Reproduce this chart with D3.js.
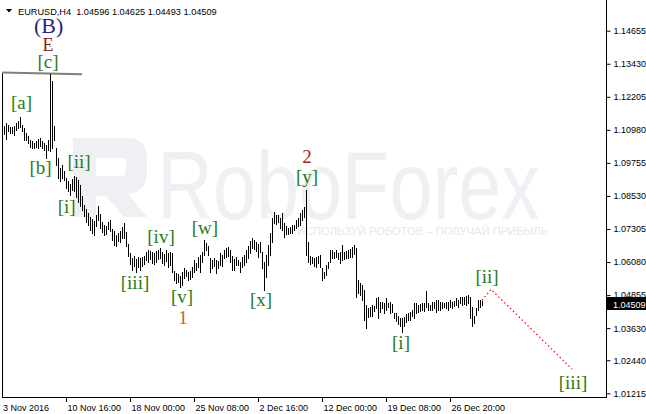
<!DOCTYPE html>
<html><head><meta charset="utf-8">
<script src="https://cdn.jsdelivr.net/npm/d3@7"></script>
<style>html,body{margin:0;padding:0;background:#fff;}svg{display:block;}</style>
</head><body>
<svg id="c" width="646" height="414"></svg>
<script>
// ---------- DATA ----------
const symbolTitle = "EURUSD,H4";
const headerValues = ["1.04596", "1.04625", "1.04493", "1.04509"];
const lastPrice = 1.04509;

const highs = [
1.1123,1.1112,1.1123,1.1116,1.1108,1.1109,1.1112,1.1123,1.1131,1.1145,
1.1116,1.1105,1.1086,1.1075,1.1060,1.1057,1.1049,1.1056,1.1064,1.1067,
1.1056,1.1049,1.1041,1.1060,1.1305,1.1279,1.1112,1.1030,1.0993,1.0956,
1.0968,1.0945,1.0919,1.0908,1.0897,1.0915,1.0926,1.0923,1.0912,1.0893,
1.0852,1.0819,1.0804,1.0789,1.0774,1.0767,1.0760,1.0782,1.0815,1.0786,
1.0756,1.0745,1.0741,1.0756,1.0764,1.0730,1.0723,1.0708,1.0715,1.0723,
1.0738,1.0752,1.0719,1.0675,1.0641,1.0623,1.0630,1.0619,1.0626,1.0623,
1.0626,1.0630,1.0645,1.0652,1.0649,1.0645,1.0641,1.0649,1.0652,1.0660,
1.0645,1.0638,1.0652,1.0641,1.0645,1.0641,1.0575,1.0567,1.0563,1.0556,
1.0571,1.0586,1.0578,1.0571,1.0575,1.0589,1.0615,1.0604,1.0626,1.0634,
1.0645,1.0689,1.0678,1.0667,1.0623,1.0615,1.0623,1.0615,1.0612,1.0641,
1.0634,1.0652,1.0660,1.0663,1.0652,1.0630,1.0619,1.0626,1.0615,1.0608,
1.0626,1.0634,1.0652,1.0667,1.0686,1.0697,1.0689,1.0682,1.0675,1.0682,
1.0645,1.0608,1.0634,1.0671,1.0715,1.0771,1.0793,1.0782,1.0782,1.0771,
1.0789,1.0752,1.0741,1.0734,1.0738,1.0745,1.0745,1.0764,1.0771,1.0789,
1.0801,1.0812,1.0875,1.0682,1.0630,1.0626,1.0623,1.0626,1.0630,1.0634,
1.0586,1.0571,1.0597,1.0608,1.0652,1.0652,1.0645,1.0652,1.0641,1.0645,
1.0671,1.0645,1.0649,1.0652,1.0656,1.0663,1.0671,1.0660,1.0541,1.0530,
1.0523,1.0504,1.0448,1.0437,1.0441,1.0448,1.0445,1.0474,1.0478,1.0459,
1.0459,1.0456,1.0474,1.0456,1.0459,1.0452,1.0419,1.0419,1.0408,1.0400,
1.0400,1.0404,1.0415,1.0419,1.0422,1.0430,1.0456,1.0456,1.0448,1.0452,
1.0456,1.0456,1.0500,1.0456,1.0448,1.0459,1.0459,1.0467,1.0467,1.0459,
1.0459,1.0456,1.0459,1.0459,1.0467,1.0459,1.0463,1.0474,1.0467,1.0478,
1.0478,1.0478,1.0482,1.0485,1.0478,1.0441,1.0408,1.0437,1.0467,1.0467,
1.04625];
const lows = [
1.1060,1.1083,1.1064,1.1094,1.1086,1.1087,1.1079,1.1097,1.1105,1.1108,
1.1094,1.1060,1.1060,1.1049,1.1034,1.1030,1.1031,1.1034,1.1030,1.1038,
1.1030,1.1023,1.0993,1.1023,1.1019,1.1030,1.1060,1.0968,1.0919,1.0908,
1.0919,1.0912,1.0882,1.0871,1.0856,1.0875,1.0871,1.0849,1.0830,1.0815,
1.0801,1.0778,1.0756,1.0745,1.0727,1.0715,1.0708,1.0741,1.0764,1.0734,
1.0719,1.0708,1.0712,1.0730,1.0723,1.0689,1.0671,1.0667,1.0686,1.0682,
1.0697,1.0697,1.0667,1.0630,1.0600,1.0578,1.0593,1.0571,1.0589,1.0578,
1.0593,1.0600,1.0615,1.0608,1.0619,1.0604,1.0600,1.0608,1.0619,1.0623,
1.0604,1.0597,1.0612,1.0589,1.0597,1.0571,1.0541,1.0530,1.0534,1.0515,
1.0523,1.0549,1.0556,1.0541,1.0545,1.0552,1.0571,1.0578,1.0589,1.0571,
1.0608,1.0634,1.0652,1.0634,1.0571,1.0586,1.0593,1.0567,1.0586,1.0597,
1.0593,1.0623,1.0626,1.0630,1.0608,1.0578,1.0578,1.0597,1.0597,1.0571,
1.0589,1.0597,1.0608,1.0623,1.0641,1.0660,1.0656,1.0649,1.0626,1.0645,
1.0586,1.0504,1.0552,1.0597,1.0634,1.0682,1.0752,1.0749,1.0756,1.0734,
1.0727,1.0700,1.0712,1.0712,1.0715,1.0715,1.0727,1.0734,1.0741,1.0745,
1.0764,1.0775,1.0634,1.0608,1.0600,1.0604,1.0593,1.0589,1.0604,1.0589,
1.0541,1.0549,1.0560,1.0586,1.0608,1.0623,1.0623,1.0626,1.0619,1.0604,
1.0615,1.0619,1.0623,1.0623,1.0626,1.0626,1.0637,1.0477,1.0493,1.0485,
1.0467,1.0393,1.0363,1.0404,1.0408,1.0408,1.0426,1.0437,1.0400,1.0422,
1.0437,1.0419,1.0430,1.0441,1.0419,1.0422,1.0400,1.0389,1.0378,1.0371,
1.0348,1.0371,1.0385,1.0393,1.0393,1.0408,1.0400,1.0419,1.0422,1.0426,
1.0430,1.0426,1.0441,1.0430,1.0430,1.0430,1.0437,1.0422,1.0430,1.0430,
1.0437,1.0441,1.0437,1.0430,1.0441,1.0437,1.0445,1.0448,1.0441,1.0456,
1.0448,1.0452,1.0448,1.0456,1.0400,1.0370,1.0382,1.0411,1.0430,1.0441,
1.04493];

const priceTicks = [1.14655,1.13430,1.12205,1.10980,1.09755,1.08530,1.07305,1.06080,1.04855,1.03630,1.02440,1.01215];
const timeTickBars = [0,32,64,96,128,160,192,224];
const timeTickLabels = ["3 Nov 2016","10 Nov 16:00","18 Nov 00:00","25 Nov 08:00","2 Dec 16:00","12 Dec 00:00","19 Dec 08:00","26 Dec 20:00"];

// wave labels: text, bar index, price (baseline), kind
const waveText  = ["(B)","E","[c]","[a]","[b]","[ii]","[i]","[iii]","[iv]","[w]","[v]","1","[x]","[y]","2","[i]","[ii]","[iii]"];
const waveBar   = [23.3,23,23,9.8,19.3,38.5,32.3,66.5,79.5,101.5,90,90.5,129.5,152.5,152.5,199.5,242.5,285.5];
const wavePrice = [1.1457,1.1390,1.1329,1.1175,1.0934,1.0956,1.0789,1.0508,1.0678,1.0712,1.0456,1.0378,1.0445,1.0901,1.0975,1.0285,1.0530,1.0137];
const waveKind  = ["B","E","g","g","g","g","g","g","g","g","g","one","g","g","two","g","g","g"];

// resistance line at the [c] high and projected path
const highLineBars = [0,40];
const highLinePrices = [1.1311,1.1304];
const projBars = [240,244.5,285];
const projPrices = [1.0466,1.0507,1.0211];

// ---------- DRAW ----------
const svg = d3.select("#c");
const W = 646, H = 414;
const plotL = 2, plotR = 606, plotB = 397;
const x = d3.scaleLinear().domain([0,240]).range([2,482]);
const y = d3.scaleLinear().domain([1.01215,1.14655]).range([393.3,30.7]);

// watermark
const wm = svg.append("g").attr("fill","#eef0f3");
wm.append("path").attr("d",
 "M73,138 H128 Q147,138 147,160 V172 Q147,192 128,194 L147,217 H124 L106,196 H96 V217 H73 Z M96,158 V176 H122 Q126,176 126,170 V164 Q126,158 122,158 Z")
 .attr("fill-rule","evenodd");
wm.append("text").attr("x",157).attr("y",219).attr("font-family","Liberation Sans, Arial, sans-serif")
  .attr("font-size",96).attr("textLength",383).attr("lengthAdjust","spacingAndGlyphs").text("RoboForex");
svg.append("text").attr("x",297).attr("y",235).attr("fill","#e6e8eb").attr("font-family","Liberation Sans, Arial, sans-serif")
  .attr("font-size",11).attr("textLength",251).attr("lengthAdjust","spacingAndGlyphs").text("ИСПОЛЬЗУЙ РОБОТОВ – ПОЛУЧАЙ ПРИБЫЛЬ");

// frame
svg.append("line").attr("x1",plotL+0.5).attr("x2",plotL+0.5).attr("y1",72).attr("y2",plotB+0.5).attr("stroke","#000");
svg.append("line").attr("x1",plotR+0.5).attr("x2",plotR+0.5).attr("y1",0).attr("y2",plotB+0.5).attr("stroke","#000");
svg.append("line").attr("x1",plotL).attr("x2",plotR+1).attr("y1",plotB+0.5).attr("y2",plotB+0.5).attr("stroke","#000");

// high line
svg.append("line").attr("x1",x(highLineBars[0])).attr("x2",x(highLineBars[1]))
  .attr("y1",y(highLinePrices[0])).attr("y2",y(highLinePrices[1]))
  .attr("stroke","#808080").attr("stroke-width",2);

// bars
svg.append("g").selectAll("line").data(highs.map((h,i)=>({i,h,l:lows[i]}))).join("line")
  .attr("x1",d=>Math.round(x(d.i))+0.5).attr("x2",d=>Math.round(x(d.i))+0.5)
  .attr("y1",d=>Math.round(y(d.h))).attr("y2",d=>Math.round(y(d.l))+1)
  .attr("stroke","#000").attr("stroke-width",1).attr("shape-rendering","crispEdges");

// projection
svg.append("path").datum(projBars.map((b,i)=>[b,projPrices[i]]))
  .attr("d",d3.line().x(d=>x(d[0])).y(d=>y(d[1])))
  .attr("fill","none").attr("stroke","#ff0000").attr("stroke-width",1.2).attr("stroke-dasharray","1.5,2.6");

// right axis
const ax = svg.append("g").attr("transform",`translate(${plotR+0.5},0)`)
  .call(d3.axisRight(y).tickValues(priceTicks).tickSize(4).tickPadding(3).tickFormat(d=>d.toFixed(5)));
ax.select(".domain").remove();
ax.selectAll("text").attr("font-family","Liberation Sans, Arial, sans-serif").attr("font-size",9).attr("fill","#000");
ax.selectAll("line").attr("stroke","#000");

// current price label
const cy = y(lastPrice);
svg.append("rect").attr("x",607).attr("y",Math.round(cy)-7).attr("width",39).attr("height",13).attr("fill","#000");
svg.append("text").attr("x",613).attr("y",Math.round(cy)+3.5).attr("fill","#fff")
  .attr("font-family","Liberation Sans, Arial, sans-serif").attr("font-size",9).text(lastPrice.toFixed(5));

// bottom time axis
const tg = svg.append("g");
timeTickBars.forEach((b,k)=>{
  const tx = Math.round(x(b))+0.5;
  if(k>0) tg.append("line").attr("x1",tx).attr("x2",tx).attr("y1",plotB).attr("y2",plotB+5).attr("stroke","#000");
  tg.append("text").attr("x",tx+(k===0?0.5:1)).attr("y",411).attr("font-family","Liberation Sans, Arial, sans-serif")
    .attr("font-size",9).attr("fill","#000").text(timeTickLabels[k]);
});

// header
svg.append("path").attr("d","M6,9 L12,9 L9,12.5 Z").attr("fill","#000");
svg.append("text").attr("x",18).attr("y",15).attr("font-family","Liberation Sans, Arial, sans-serif")
  .attr("font-size",9.2).attr("fill","#000").attr("xml:space","preserve")
  .text(symbolTitle + "  " + headerValues.join(" "));

// wave labels
const kindStyle = {
  B:{fill:"#25257f",size:22},
  E:{fill:"#8b1a1a",size:18},
  g:{fill:"#2a7a1c",size:19},
  one:{fill:"#c0692a",size:19},
  two:{fill:"#a01f1f",size:19}
};
svg.append("g").selectAll("text").data(waveText.map((t,i)=>({t,b:waveBar[i],p:wavePrice[i],k:waveKind[i]}))).join("text")
  .attr("x",d=>x(d.b)).attr("y",d=>y(d.p)).attr("text-anchor","middle")
  .attr("font-family","Liberation Serif, Times New Roman, serif")
  .attr("font-size",d=>kindStyle[d.k].size).attr("fill",d=>kindStyle[d.k].fill).text(d=>d.t);
</script>
</body></html>
